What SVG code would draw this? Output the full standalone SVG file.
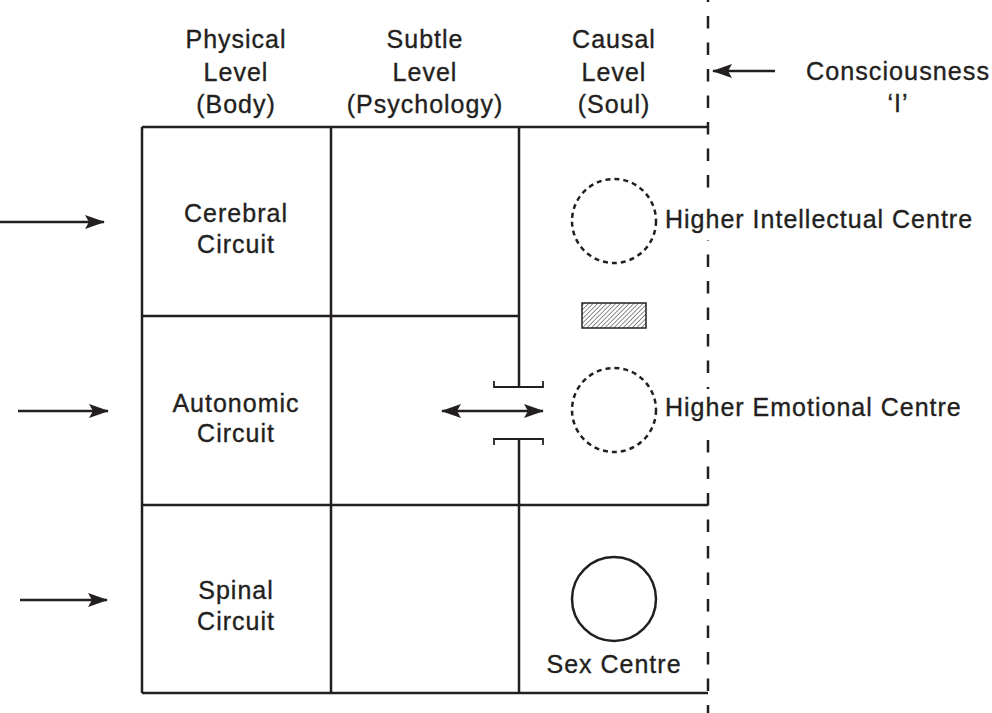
<svg xmlns="http://www.w3.org/2000/svg" width="992" height="713" viewBox="0 0 992 713">
<style>
  text { font-family: "Liberation Sans", Arial, sans-serif; font-size: 25px; fill: #231f20; stroke: #231f20; stroke-width: 0.35px; text-anchor: middle; letter-spacing: 1px; }
  .lbl { text-anchor: start; }
  .ln { stroke: #231f20; stroke-width: 2.5; fill: none; }
  .thin { stroke: #231f20; stroke-width: 1.8; fill: none; }
  .dc { stroke: #231f20; stroke-width: 2.5; fill: none; stroke-dasharray: 5 4; }
  .dash { stroke: #231f20; stroke-width: 2.5; fill: none; stroke-dasharray: 12.5 14; }
  .bg { fill: #ffffff; stroke: none; }
</style>
<defs>
  <marker id="ah" viewBox="0 0 20 14" refX="19" refY="7" markerWidth="20" markerHeight="14" markerUnits="userSpaceOnUse" orient="auto-start-reverse">
    <path d="M0,0 L20,7 L0,14 L4,7 Z" fill="#231f20"/>
  </marker>
  <pattern id="hatch" patternUnits="userSpaceOnUse" width="3.2" height="3.2" patternTransform="rotate(45)">
    <line x1="0" y1="0" x2="0" y2="3.2" stroke="#231f20" stroke-width="1"/>
  </pattern>
</defs>

<g id="connectors">
  <line class="dash" x1="708" y1="-10.5" x2="708" y2="713"/>
  <line class="ln" x1="0" y1="222" x2="104" y2="222" marker-end="url(#ah)"/>
  <line class="ln" x1="18" y1="411" x2="108" y2="411" marker-end="url(#ah)"/>
  <line class="ln" x1="20" y1="600" x2="107" y2="600" marker-end="url(#ah)"/>
  <line class="ln" x1="442" y1="411" x2="543" y2="411" marker-start="url(#ah)" marker-end="url(#ah)"/>
  <line class="ln" x1="775" y1="71" x2="713" y2="71" marker-end="url(#ah)"/>
</g>

<g id="headers">
  <text x="236" y="48">Physical</text>
  <text x="236" y="81">Level</text>
  <text x="236" y="113">(Body)</text>
  <text x="425" y="48">Subtle</text>
  <text x="425" y="81">Level</text>
  <text x="425" y="113">(Psychology)</text>
  <text x="614" y="48">Causal</text>
  <text x="614" y="81">Level</text>
  <text x="614" y="113">(Soul)</text>
</g>

<g id="grid">
  <line class="ln" x1="142" y1="127" x2="708" y2="127"/>
  <line class="ln" x1="142" y1="316" x2="519" y2="316"/>
  <line class="ln" x1="142" y1="505" x2="708" y2="505"/>
  <line class="ln" x1="142" y1="693" x2="708" y2="693"/>
  <line class="ln" x1="142" y1="127" x2="142" y2="693"/>
  <line class="ln" x1="331" y1="127" x2="331" y2="693"/>
  <line class="ln" x1="519" y1="127" x2="519" y2="387"/>
  <line class="ln" x1="519" y1="439" x2="519" y2="693"/>
  <path class="thin" d="M494,381 V387 H543 V381"/>
  <path class="thin" d="M494,445 V439 H543 V445"/>
</g>

<g id="cerebral">
  <text x="236" y="222">Cerebral</text>
  <text x="236" y="253">Circuit</text>
</g>
<g id="autonomic">
  <text x="236" y="412">Autonomic</text>
  <text x="236" y="442">Circuit</text>
</g>
<g id="spinal">
  <text x="236" y="599">Spinal</text>
  <text x="236" y="630">Circuit</text>
</g>

<g id="higher-intellectual">
  <circle class="dc" cx="614" cy="221" r="42"/>
  <rect class="bg" x="663" y="200" width="314" height="40"/>
  <text class="lbl" x="665" y="228">Higher Intellectual Centre</text>
</g>
<g id="block">
  <rect x="582" y="303" width="64" height="25" fill="url(#hatch)" stroke="#231f20" stroke-width="1.5"/>
</g>
<g id="higher-emotional">
  <circle class="dc" cx="614" cy="410" r="42"/>
  <rect class="bg" x="663" y="389" width="306" height="40"/>
  <text class="lbl" x="665" y="416">Higher Emotional Centre</text>
</g>
<g id="sex">
  <circle class="ln" cx="614" cy="599" r="42"/>
  <text x="614" y="673">Sex Centre</text>
</g>
<g id="consciousness">
  <text x="898" y="80" textLength="184" lengthAdjust="spacingAndGlyphs">Consciousness</text>
  <text x="898" y="112">‘I’</text>
</g>
</svg>
